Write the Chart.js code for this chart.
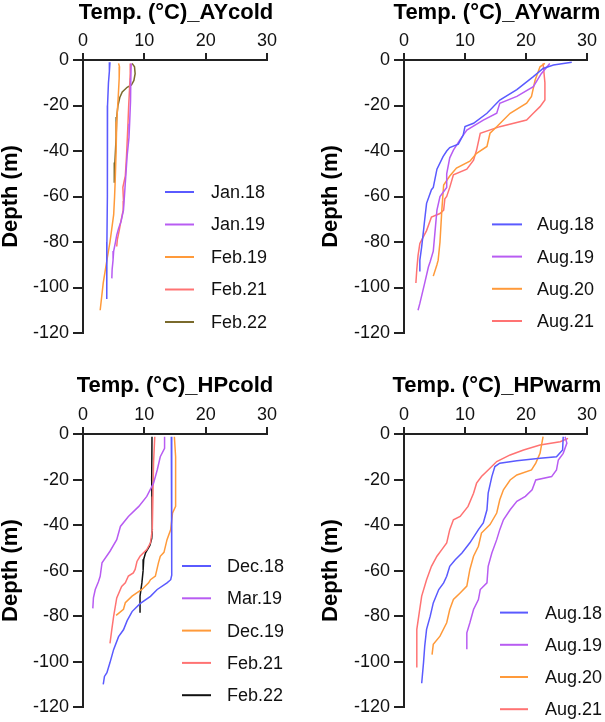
<!DOCTYPE html>
<html><head><meta charset="utf-8">
<script src="https://cdn.jsdelivr.net/npm/chart.js@4.4.1/dist/chart.umd.min.js"></script>
<style>
html,body{margin:0;padding:0;background:#fff;}
body{width:605px;height:722px;position:relative;overflow:hidden;}
canvas{position:absolute;display:block;}
</style></head><body>
<canvas id="c1" width="302" height="361" style="left:0;top:0"></canvas>
<canvas id="c2" width="285" height="361" style="left:320px;top:0"></canvas>
<canvas id="c3" width="302" height="361" style="left:0;top:361px"></canvas>
<canvas id="c4" width="285" height="361" style="left:320px;top:361px"></canvas>
<script>
// ---- axis ticks ----
const tempTicks = [0, 10, 20, 30];
const depthTicks = [0, -20, -40, -60, -80, -100, -120];

// ---- Panel 1: AYcold ----
const ayColdLabels = ['Jan.18', 'Jan.19', 'Feb.19', 'Feb.21', 'Feb.22'];
const ayJan18T = [4.4, 4.3, 4.15, 4.0, 4.0, 3.95, 3.9, 3.9, 3.85];
const ayJan18D = [-1, -5, -10, -20, -40, -60, -80, -100, -105];
const ayJan19T = [7.85, 7.8, 7.75, 7.6, 7.5, 7.2, 7.05, 6.85, 6.6, 6.2, 5.8, 5.5, 5.3, 5.0, 4.9, 4.75, 4.7];
const ayJan19D = [-1.5, -8, -18, -28, -34, -42, -48, -56, -66, -71, -74, -77, -80, -84, -88, -92, -96];
const ayFeb19T = [5.8, 5.95, 5.9, 5.75, 5.5, 5.4, 5.25, 5.15, 5.0, 4.7, 4.4, 3.9, 3.3, 2.8];
const ayFeb19D = [-1.5, -3, -8, -16, -27, -40, -53, -60, -68, -74, -80, -88, -98, -110];
const ayFeb21T = [7.75, 7.7, 7.6, 7.45, 7.3, 7.1, 6.9, 6.5, 6.6, 6.55, 6.1, 5.9, 5.6, 5.5];
const ayFeb21D = [-1.5, -6, -12, -20, -30, -42, -51, -56, -62, -66, -72, -75, -79, -82];
const ayFeb22T = [8.0, 8.4, 8.5, 8.3, 7.9, 7.2, 6.4, 6.0, 5.7, 5.5, 5.4, 5.2, 5.1];
const ayFeb22D = [-1.5, -3, -6, -9, -11, -12, -14, -16.5, -20, -25, -34, -45, -54];

// ---- Panel 2: AYwarm ----
const ayWarmLabels = ['Aug.18', 'Aug.19', 'Aug.20', 'Aug.21'];
const ayAug18T = [27.5, 24.5, 22.8, 21.2, 18.5, 15.7, 13.6, 11.4, 10.0, 9.7, 8.9, 7.5, 7.0, 6.4, 5.4, 4.8, 4.5, 3.7, 3.4, 3.2, 2.9, 2.6, 2.6];
const ayAug18D = [-1, -2.2, -3.7, -7.3, -13, -17.6, -23.4, -27.8, -29.3, -33, -37, -38.5, -40, -42.5, -48, -56, -57, -63, -70, -75, -82, -88, -93];
const ayAug19T = [23.9, 22.5, 21.2, 18.5, 15.7, 15.2, 13.0, 10.3, 9.2, 8.1, 7.5, 7.0, 7.0, 5.9, 5.4, 5.1, 4.8, 4.3, 4.0, 3.4, 2.6, 2.3];
const ayAug19D = [-1.5, -6, -11.7, -16, -19, -23.4, -26.4, -30.8, -35, -39.6, -43, -50, -56, -60, -66, -75, -84, -88.6, -91, -98, -107, -110];
const ayAug20T = [23.1, 22.3, 21.5, 20.9, 20.1, 17.4, 15.2, 14.1, 13.6, 11.9, 10.8, 8.6, 7.5, 6.5, 6.2, 5.9, 5.6, 5.4, 4.8];
const ayAug20D = [-1.5, -3, -8.8, -16, -19, -23.4, -29.3, -32.2, -38, -41, -44.5, -47.5, -51, -55, -66, -80, -88, -90, -95];
const ayAug21T = [22.8, 23.1, 23.1, 22.3, 21.2, 20.1, 15.7, 12.5, 11.9, 11.4, 10.3, 8.1, 7.5, 7.0, 6.7, 6.5, 5.9, 4.5, 3.7, 2.6, 2.3, 2.1, 1.95];
const ayAug21D = [-1.5, -10, -17.6, -20.5, -23.4, -26.4, -29.3, -32.2, -39.6, -44, -48, -50.5, -56, -60, -61, -66, -67.5, -69, -75, -80.6, -86, -92, -98];

// ---- Panel 3: HPcold ----
const hpColdLabels = ['Dec.18', 'Mar.19', 'Dec.19', 'Feb.21', 'Feb.22'];
const hpDec18T = [14.4, 14.4, 14.5, 14.5, 14.3, 13.7, 12.1, 11.0, 9.3, 8.0, 7.2, 6.6, 5.8, 5.0, 4.4, 3.9, 3.5, 3.3];
const hpDec18D = [-1.2, -20, -42, -62, -64, -65.4, -68.3, -71.3, -74.5, -78, -82, -86, -89, -94.6, -100.4, -104.8, -106.5, -110];
const hpMar19T = [13.3, 13.3, 12.6, 12.1, 11.5, 10.4, 9.1, 7.4, 6.1, 5.5, 4.4, 3.1, 2.8, 2.5, 2.0, 1.7, 1.6];
const hpMar19D = [-1.2, -6.3, -10, -15.8, -21.6, -27.4, -31.8, -36.2, -40.6, -46.4, -51.5, -56.6, -62.5, -65, -68.3, -72, -76.6];
const hpDec19T = [14.9, 15.1, 15.1, 14.6, 14.3, 13.7, 13.2, 12.6, 12.3, 11.8, 11.0, 10.7, 9.6, 8.0, 6.9, 6.6, 5.4];
const hpDec19D = [-1.2, -10, -31.8, -34.7, -42, -46.4, -52, -53.7, -56.6, -62.4, -64, -65.4, -68.3, -71.2, -74.1, -77, -79.7];
const hpFeb21T = [11.7, 11.5, 11.4, 11.3, 11.0, 10.4, 9.3, 8.8, 8.5, 8.2, 7.4, 6.9, 6.3, 5.5, 5.0, 4.7, 4.4];
const hpFeb21D = [-1.2, -12.8, -27.4, -42, -47.8, -50.8, -53.7, -56, -59.5, -61, -62.4, -65.4, -67, -72, -80, -85.8, -92];
const hpFeb22T = [11.25, 11.2, 11.3, 11.2, 10.9, 10.2, 9.9, 9.8, 9.6, 9.3, 9.3];
const hpFeb22D = [-1.2, -20, -42, -46, -49, -52.2, -55, -60, -65.4, -71.2, -78.5];

// ---- Panel 4: HPwarm ----
const hpWarmLabels = ['Aug.18', 'Aug.19', 'Aug.20', 'Aug.21'];
const hpAug18T = [26.1, 26.0, 25.0, 22.3, 18.5, 15.7, 14.9, 14.4, 13.8, 13.6, 13.0, 12.2, 10.8, 9.5, 8.4, 7.5, 7.0, 6.5, 5.7, 4.8, 4.3, 3.7, 3.4, 3.2, 2.9];
const hpAug18D = [-1.2, -7, -10, -10.7, -11.7, -12.8, -14.3, -18.7, -26, -33.3, -39.1, -42, -47.8, -52.3, -55.2, -58.1, -62.5, -65.4, -68.3, -74.2, -80, -85.8, -93.1, -100.4, -109.5];
const hpAug19T = [26.4, 26.7, 26.1, 25.3, 25.0, 24.2, 21.6, 21.0, 19.9, 18.5, 17.4, 16.3, 15.7, 15.2, 14.4, 13.8, 13.6, 12.5, 12.2, 11.4, 10.8, 10.3, 10.3];
const hpAug19D = [-1.2, -4, -8.5, -11.4, -15.8, -18.7, -20.2, -24.5, -27.4, -29.6, -33.3, -37.7, -42, -46.4, -52.3, -58.1, -65.4, -68.3, -72.7, -77.1, -82.9, -87.3, -94.6];
const hpAug20T = [22.8, 22.3, 21.6, 20.9, 18.5, 17.4, 16.3, 15.7, 15.2, 14.1, 12.7, 12.2, 11.4, 10.8, 10.3, 9.2, 8.1, 7.5, 7.0, 5.9, 4.8, 4.6];
const hpAug20D = [-1.2, -8.5, -12.8, -15.8, -18, -20.2, -24.5, -28.9, -34.7, -39.8, -43.5, -49.3, -53.7, -59.5, -66.8, -69.8, -72.7, -77.1, -82.9, -88.8, -92.4, -96.9];
const hpAug21T = [26.9, 25.6, 22.3, 19.6, 17.4, 15.2, 13.8, 12.7, 11.9, 11.4, 10.5, 9.2, 8.1, 7.5, 7.0, 6.2, 5.4, 4.5, 3.7, 2.9, 2.5, 2.1, 2.1];
const hpAug21D = [-1.9, -3.4, -4.8, -7, -9.2, -12.1, -15.8, -18.7, -21.6, -26, -31.8, -36.2, -37.7, -42, -47.8, -50.8, -53.7, -58.1, -64, -71.2, -78.5, -85.8, -102.6];

// ---- colours ----
const BLUE = '#5a5aff', PURPLE = '#b85cf2', ORANGE = '#ff9a3a', RED = '#ff7373', OLIVE = '#7a6a2c', BLACK = '#111111';

const FAMILY = '"Liberation Sans", Arial, Helvetica, sans-serif';
Chart.defaults.font.family = FAMILY;
Chart.defaults.color = '#111';

function pts(T, D) { return T.map((t, i) => ({ x: t, y: D[i] })); }
function ds(label, T, D, color) {
  return { label, data: pts(T, D), borderColor: color, backgroundColor: color, borderWidth: 1.5,
           pointRadius: 0, showLine: true, fill: false, tension: 0 };
}

const panelDecor = {
  id: 'panelDecor',
  afterDraw(chart, args, o) {
    const ctx = chart.ctx, a = chart.chartArea;
    ctx.save();
    ctx.fillStyle = '#000';
    ctx.font = 'bold 22px ' + FAMILY;
    ctx.textAlign = 'center';
    ctx.textBaseline = 'alphabetic';
    ctx.fillText(o.title, (a.left + a.right) / 2 + o.titleDx, o.titleY);
    ctx.font = '18px ' + FAMILY;
    ctx.textAlign = 'left';
    ctx.textBaseline = 'middle';
    const list = chart.data.datasets, n = list.length;
    list.forEach((d, i) => {
      const y = a.bottom + o.legLastDy - (n - 1 - i) * o.legStep;
      ctx.strokeStyle = d.borderColor;
      ctx.lineWidth = 2;
      ctx.beginPath();
      ctx.moveTo(a.left + o.legX0, y);
      ctx.lineTo(a.left + o.legX1, y);
      ctx.stroke();
      ctx.fillStyle = '#111';
      ctx.fillText(d.label, a.left + o.legTextX, y + 1);
    });
    ctx.restore();
  }
};

function scales(yWidth, xHeight) {
  const gridCommon = { display: true, drawOnChartArea: false, drawTicks: true, color: '#222', lineWidth: 2 };
  return {
    x: {
      type: 'linear', position: 'top', min: tempTicks[0], max: tempTicks[tempTicks.length - 1],
      afterBuildTicks: s => { s.ticks = tempTicks.map(v => ({ value: v })); },
      ticks: { padding: 1, color: '#111', font: { size: 18 }, maxRotation: 0 },
      grid: Object.assign({ tickLength: 7 }, gridCommon),
      border: { display: true, color: '#222', width: 2 },
      afterFit: s => { s.height = xHeight; }
    },
    y: {
      type: 'linear', min: depthTicks[depthTicks.length - 1], max: depthTicks[0],
      afterBuildTicks: s => { s.ticks = depthTicks.slice().reverse().map(v => ({ value: v })); },
      ticks: { padding: 4, color: '#111', font: { size: 18 } },
      grid: Object.assign({ tickLength: 10 }, gridCommon),
      border: { display: true, color: '#222', width: 2 },
      title: { display: true, text: 'Depth (m)', color: '#000', font: { size: 22, weight: 'bold', lineHeight: 1 }, padding: { top: 0, bottom: 0 } },
      afterFit: s => { s.width = yWidth; }
    }
  };
}

function makeChart(id, datasets, yWidth, xHeight, padRight, padBottom, decor) {
  new Chart(document.getElementById(id), {
    type: 'scatter',
    data: { datasets },
    options: {
      responsive: false, animation: false, devicePixelRatio: 1,
      layout: { padding: { left: 0, top: 0, right: padRight, bottom: padBottom } },
      scales: scales(yWidth, xHeight),
      plugins: { legend: { display: false }, tooltip: { enabled: false }, title: { display: false }, panelDecor: decor }
    },
    plugins: [panelDecor]
  });
}

makeChart('c1', [
  ds(ayColdLabels[0], ayJan18T, ayJan18D, BLUE),
  ds(ayColdLabels[1], ayJan19T, ayJan19D, PURPLE),
  ds(ayColdLabels[2], ayFeb19T, ayFeb19D, ORANGE),
  ds(ayColdLabels[3], ayFeb21T, ayFeb21D, RED),
  ds(ayColdLabels[4], ayFeb22T, ayFeb22D, OLIVE)
], 83, 60, 35, 28, { title: 'Temp. (°C)_AYcold', titleDx: 1, titleY: 19, legX0: 82, legX1: 111, legTextX: 128, legLastDy: -11, legStep: 32.5 });

makeChart('c2', [
  ds(ayWarmLabels[0], ayAug18T, ayAug18D, BLUE),
  ds(ayWarmLabels[1], ayAug19T, ayAug19D, PURPLE),
  ds(ayWarmLabels[2], ayAug20T, ayAug20D, ORANGE),
  ds(ayWarmLabels[3], ayAug21T, ayAug21D, RED)
], 84, 60, 18, 28, { title: 'Temp. (°C)_AYwarm', titleDx: 1.5, titleY: 19, legX0: 88, legX1: 118, legTextX: 133, legLastDy: -12, legStep: 32.2 });

makeChart('c3', [
  ds(hpColdLabels[0], hpDec18T, hpDec18D, BLUE),
  ds(hpColdLabels[1], hpMar19T, hpMar19D, PURPLE),
  ds(hpColdLabels[2], hpDec19T, hpDec19D, ORANGE),
  ds(hpColdLabels[3], hpFeb21T, hpFeb21D, RED),
  ds(hpColdLabels[4], hpFeb22T, hpFeb22D, BLACK)
], 83, 73, 35, 14, { title: 'Temp. (°C)_HPcold', titleDx: 0, titleY: 31, legX0: 99, legX1: 128, legTextX: 144, legLastDy: -12, legStep: 32.3 });

makeChart('c4', [
  ds(hpWarmLabels[0], hpAug18T, hpAug18D, BLUE),
  ds(hpWarmLabels[1], hpAug19T, hpAug19D, PURPLE),
  ds(hpWarmLabels[2], hpAug20T, hpAug20D, ORANGE),
  ds(hpWarmLabels[3], hpAug21T, hpAug21D, RED)
], 84, 73, 18, 14, { title: 'Temp. (°C)_HPwarm', titleDx: 1.5, titleY: 31, legX0: 96, legX1: 124, legTextX: 141, legLastDy: 2, legStep: 32.2 });
</script>
</body></html>
